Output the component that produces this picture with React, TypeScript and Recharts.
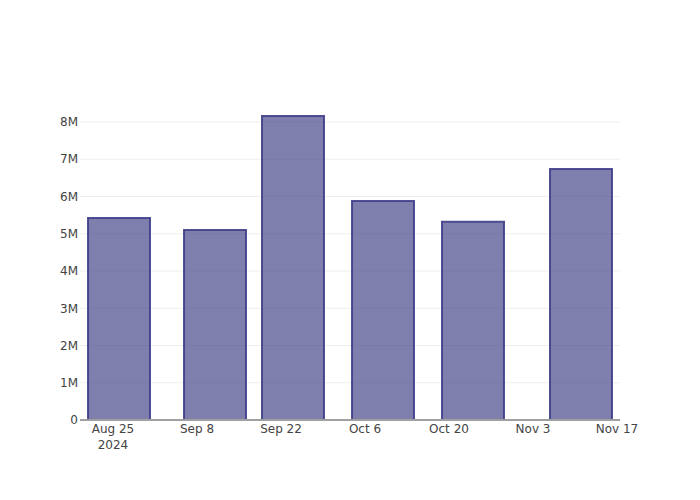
import React from "react";
import { ComposedChart, Bar, XAxis, YAxis, CartesianGrid } from "recharts";

const barDates = ["2024-08-26", "2024-09-11", "2024-09-24", "2024-10-09", "2024-10-24", "2024-11-11"];
const barValues = [5420000, 5100000, 8160000, 5880000, 5320000, 6740000];
const tickDates = ["2024-08-25", "2024-09-08", "2024-09-22", "2024-10-06", "2024-10-20", "2024-11-03", "2024-11-17"];
const tickLabels = ["Aug 25", "Sep 8", "Sep 22", "Oct 6", "Oct 20", "Nov 3", "Nov 17"];
const yTicks = [0, 1000000, 2000000, 3000000, 4000000, 5000000, 6000000, 7000000, 8000000];

const BASE = Date.UTC(2024, 7, 25);
const toDay = (s: string) => {
  const [y, m, d] = s.split("-").map(Number);
  return (Date.UTC(y, m - 1, d) - BASE) / 86400000;
};

const data = barDates.map((d, i) => ({ day: toDay(d), value: barValues[i] }));
const xTicks = tickDates.map(toDay);

const FONT = '"DejaVu Sans", Verdana, sans-serif';

const XTick = (props: any) => {
  const { x, y, payload } = props;
  const idx = xTicks.indexOf(payload.value);
  const label = idx >= 0 ? tickLabels[idx] : "";
  return (
    <g>
      <text x={x} y={y} dy="0.71em" textAnchor="middle" fill="#444" fontSize={12} fontFamily={FONT}>
        {label}
      </text>
      {idx === 0 && (
        <text x={x} y={y + 16} dy="0.71em" textAnchor="middle" fill="#444" fontSize={12} fontFamily={FONT}>
          2024
        </text>
      )}
    </g>
  );
};

const yFmt = (v: number) => (v === 0 ? "0" : `${v / 1000000}M`);

export default function App() {
  return (
    <div style={{ position: "absolute", left: 0, top: 0, width: 700, height: 500, background: "#fff" }}>
      <ComposedChart
        width={700}
        height={500}
        data={data}
        margin={{ top: 100, right: 80, bottom: 50, left: 40 }}
      >
        <CartesianGrid
          vertical={false}
          horizontalValues={yTicks.slice(1)}
          stroke="#eeeeee"
          strokeWidth={1}
        />
        <XAxis
          dataKey="day"
          type="number"
          domain={[-5.5, 84.5]}
          ticks={xTicks}
          interval={0}
          tickLine={false}
          tickSize={0}
          tickMargin={4}
          height={30}
          axisLine={{ stroke: "#a0a0a0", strokeWidth: 2 }}
          tick={<XTick />}
          allowDataOverflow
        />
        <YAxis
          type="number"
          domain={[0, 8590000]}
          ticks={yTicks}
          interval={0}
          width={40}
          axisLine={false}
          tickLine={false}
          tickSize={0}
          tickMargin={2}
          tickFormatter={yFmt}
          tick={{ fill: "#444", fontSize: 12, fontFamily: FONT }}
          allowDataOverflow
        />
        <Bar
          dataKey="value"
          barSize={62}
          fill="#48488b"
          fillOpacity={0.7}
          stroke="#3f3e8a"
          strokeOpacity={0.9}
          strokeWidth={2}
          isAnimationActive={false}
        />
      </ComposedChart>
    </div>
  );
}
